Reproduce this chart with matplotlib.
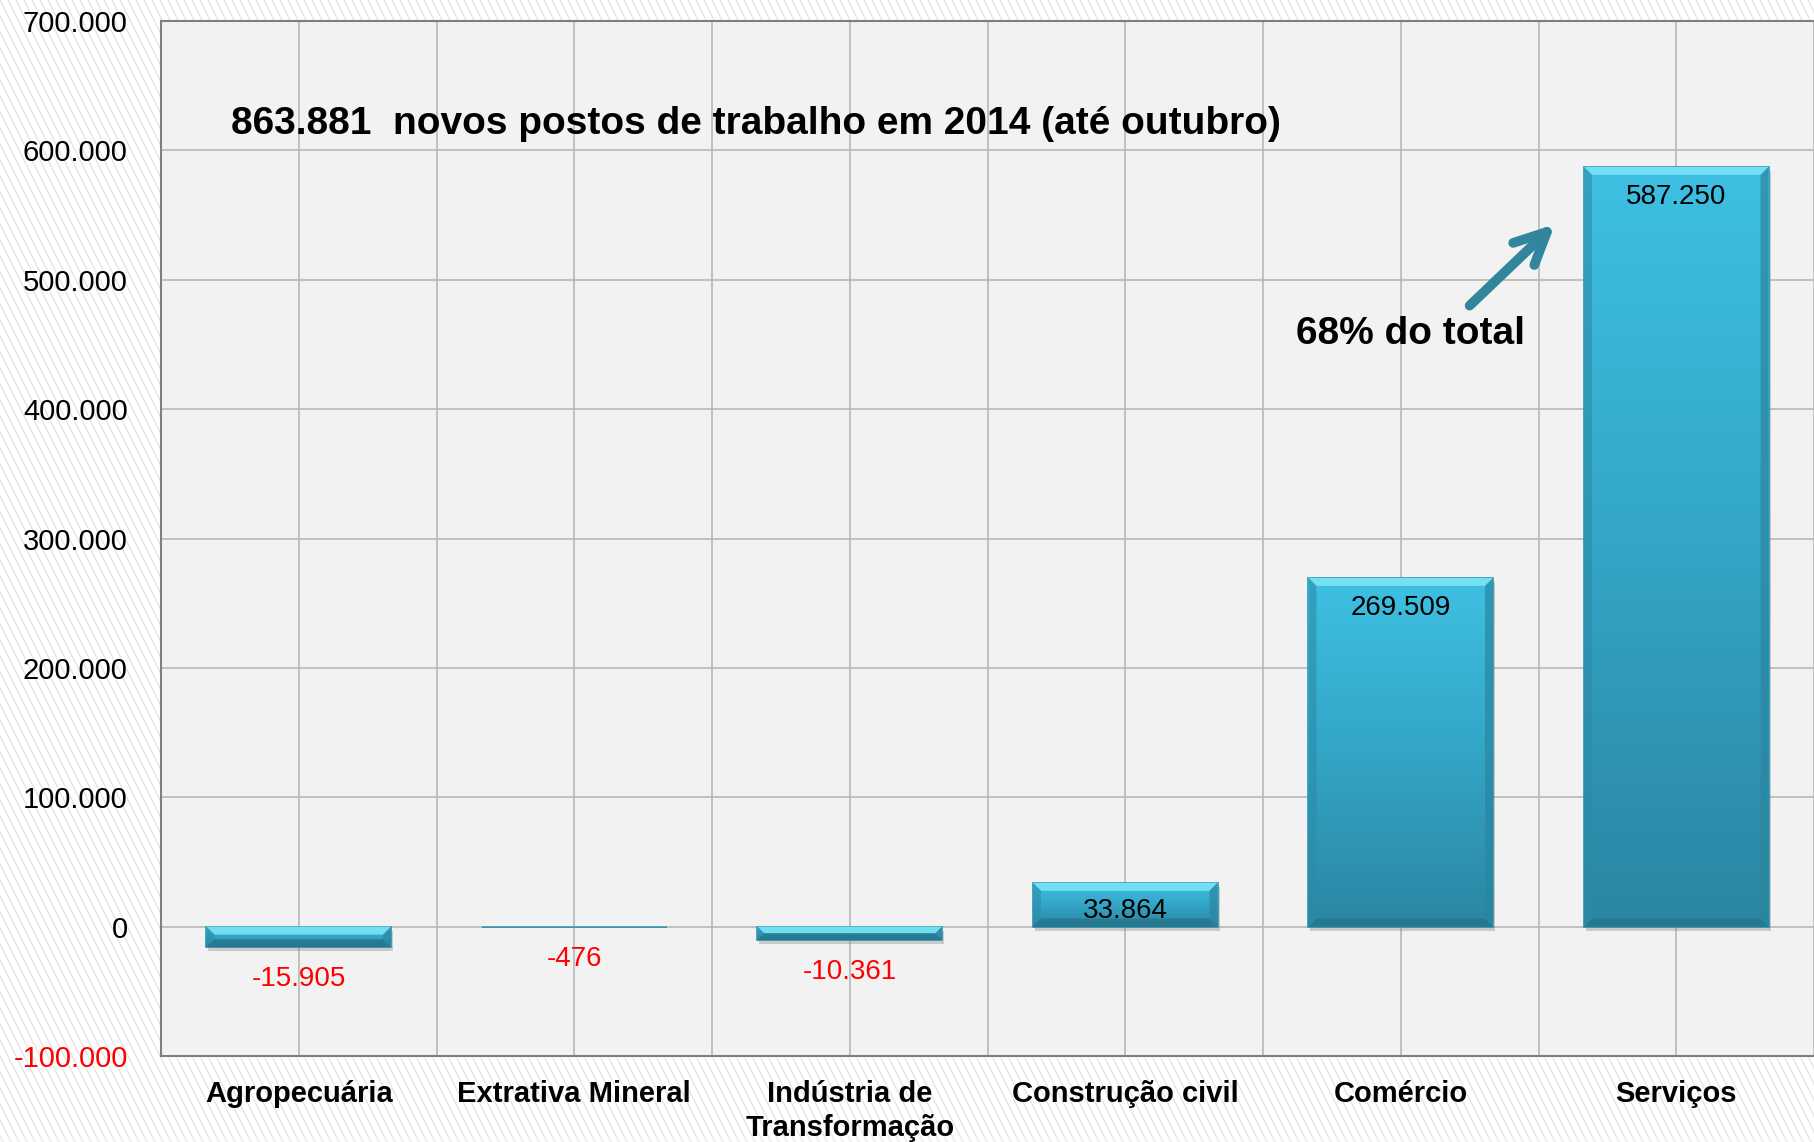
import numpy as np
import matplotlib.pyplot as plt
from matplotlib.patches import Rectangle, Polygon
from matplotlib.lines import Line2D
from matplotlib.colors import LinearSegmentedColormap

plt.rcParams['font.family'] = ['Liberation Sans', 'DejaVu Sans']

setores = ['Agropecuária', 'Extrativa Mineral', 'Indústria de\nTransformação',
           'Construção civil', 'Comércio', 'Serviços']
saldo = [-15905, -476, -10361, 33864, 269509, 587250]
yticks = [-100000, 0, 100000, 200000, 300000, 400000, 500000, 600000, 700000]
titulo = '863.881  novos postos de trabalho em 2014 (até outubro)'
nota = '68% do total'

W, H = 1814, 1142


def fmt(v):
    return f'{v:,}'.replace(',', '.')


fig = plt.figure(figsize=(W / 100, H / 100), dpi=100)
fig.patch.set_facecolor('white')

# light diagonal stripes in the background
for x0 in np.arange(-600, W + 8, 8):
    fig.add_artist(Line2D([x0 / W, (x0 + 0.5 * H) / W], [1, 0], transform=fig.transFigure,
                          color='#e4e4e4', lw=0.9, zorder=-10))

ax = fig.add_axes([161 / W, 1 - 1056 / H, 1 - 161 / W, (1056 - 21) / H])
ax.set_facecolor('#f2f2f2')
ax.set_xlim(-0.5, len(setores) - 0.5)
ax.set_ylim(-100000, 700000)

# data units per pixel
bb = ax.get_position()
px_x = (len(setores)) / (bb.width * W)
px_y = 800000 / (bb.height * H)

x = np.arange(len(setores))
bars = ax.bar(x, saldo, width=0.67, color='#37b3d6', edgecolor='#2f93b0',
              linewidth=1.2, zorder=3)

cmap = LinearSegmentedColormap.from_list('barra', ['#2b86a2', '#33a5c6', '#3ec0e2'])
grad = np.linspace(0, 1, 256).reshape(-1, 1)
for b in bars:
    x0, y0 = b.get_x(), b.get_y()
    w, h = b.get_width(), b.get_height()
    x1 = x0 + w
    lo, hi = min(y0, y0 + h), max(y0, y0 + h)
    # shadow
    ax.add_patch(Rectangle((x0 + 2 * px_x, lo - 4 * px_y), w, hi - lo,
                           facecolor='#808080', alpha=0.35, edgecolor='none', zorder=2.5))
    im = ax.imshow(grad, extent=[x0, x1, lo, hi], origin='lower',
                   aspect='auto', cmap=cmap, zorder=3.5)
    im.set_clip_path(b)
    # bevel
    dy = min(8 * px_y, (hi - lo) / 2)
    dx = min(8 * px_x, dy / px_y * px_x)
    ax.add_patch(Polygon([(x0, hi), (x1, hi), (x1 - dx, hi - dy), (x0 + dx, hi - dy)],
                         facecolor='#7fe6f8', alpha=0.85, edgecolor='none', zorder=3.6))
    ax.add_patch(Polygon([(x0, lo), (x1, lo), (x1 - dx, lo + dy), (x0 + dx, lo + dy)],
                         facecolor='#25758c', alpha=0.8, edgecolor='none', zorder=3.6))
    ax.add_patch(Polygon([(x0, lo), (x0, hi), (x0 + dx, hi - dy), (x0 + dx, lo + dy)],
                         facecolor='#2b8ca8', alpha=0.6, edgecolor='none', zorder=3.6))
    ax.add_patch(Polygon([(x1, lo), (x1, hi), (x1 - dx, hi - dy), (x1 - dx, lo + dy)],
                         facecolor='#2a86a0', alpha=0.7, edgecolor='none', zorder=3.6))

for xi, v in zip(x, saldo):
    if v >= 0:
        off = min(30, v / px_y / 2 + 6)
        ax.annotate(fmt(v), (xi, v), xytext=(0, -off), textcoords='offset pixels',
                    ha='center', va='center', fontsize=20, color='black', zorder=5)
    else:
        ax.annotate(fmt(v), (xi, v), xytext=(0, -32), textcoords='offset pixels',
                    ha='center', va='center', fontsize=20, color='#ff0000', zorder=5)

ax.set_yticks(yticks)
ax.set_yticklabels([fmt(t) for t in yticks], fontsize=21)
for lbl, t in zip(ax.get_yticklabels(), yticks):
    if t < 0:
        lbl.set_color('#ff0000')
ax.set_xticks(x)
ax.set_xticklabels(setores, fontsize=21, fontweight='bold', linespacing=1.3)
ax.set_xticks(np.arange(-0.5, len(setores), 1), minor=True)
ax.tick_params(axis='both', which='both', length=0)
ax.tick_params(axis='y', pad=24)
ax.tick_params(axis='x', pad=17)
ax.grid(True, which='both', color='#b3b3b3', linewidth=1.1, zorder=0)
ax.set_axisbelow(True)
for side in ['left', 'bottom', 'top']:
    ax.spines[side].set_color('#7f7f7f')
    ax.spines[side].set_linewidth(1.5)
ax.spines['right'].set_visible(False)

ax.text(-0.245, 620000, titulo, fontsize=28, fontweight='bold', ha='left', va='center')
ax.text(4.037, 458000, nota, fontsize=28, fontweight='bold', ha='center', va='center')
ax.annotate('', xy=(4.56, 543000), xytext=(4.25, 480000),
            arrowprops=dict(arrowstyle='->,head_length=2.3,head_width=1.1',
                            color='#31859c', lw=7, capstyle='round', joinstyle='round',
                            shrinkA=0, shrinkB=0))

fig.savefig('out.png', dpi=100)
